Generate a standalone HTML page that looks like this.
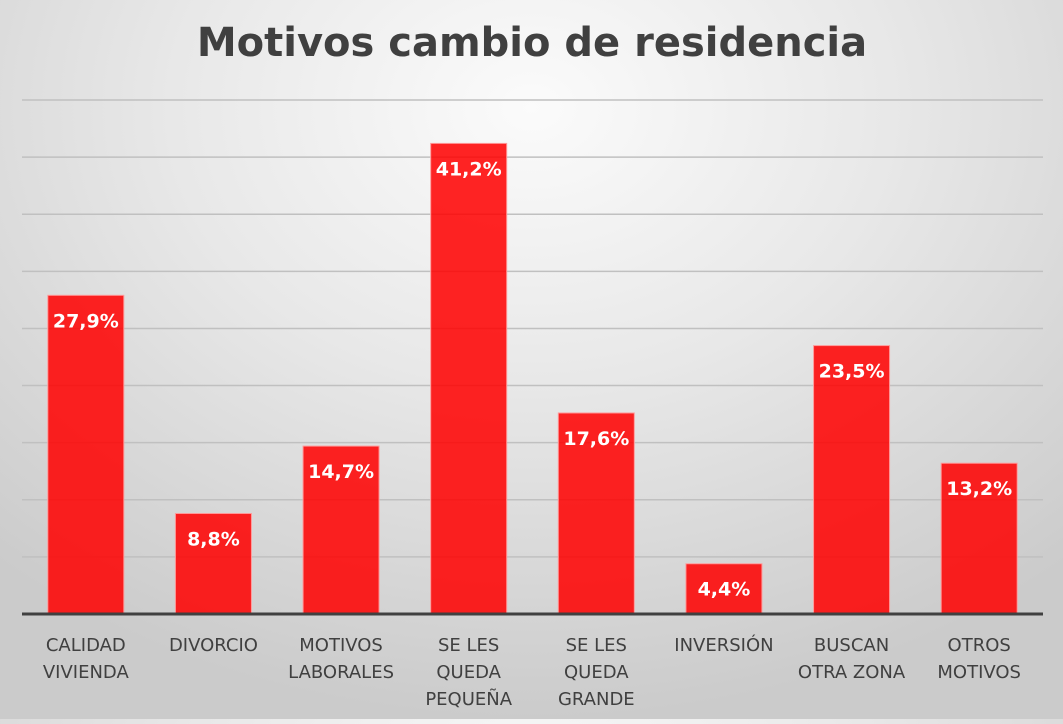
<!DOCTYPE html>
<html><head><meta charset="utf-8"><style>
html,body{margin:0;padding:0}
body{width:1063px;height:719px;overflow:hidden;font-family:"Liberation Sans","DejaVu Sans",sans-serif;
background:radial-gradient(ellipse 75% 85% at 50% 15%,#fbfbfb 0%,#e8e8e8 45%,#cbcbcb 100%);}
</style></head><body>
<svg id="chart" width="1063" height="719" xmlns="http://www.w3.org/2000/svg">
<text x="532" y="56" text-anchor="middle" font-size="40" font-weight="bold" fill="#404040" font-family="DejaVu Sans, Liberation Sans, sans-serif">Motivos cambio de residencia</text>
<g id="grid"></g><g id="bars"></g><g id="labels"></g><g id="cats"></g>
</svg>
<script>
const categories=[["CALIDAD","VIVIENDA"],["DIVORCIO"],["MOTIVOS","LABORALES"],["SE LES","QUEDA","PEQUEÑA"],["SE LES","QUEDA","GRANDE"],["INVERSIÓN"],["BUSCAN","OTRA ZONA"],["OTROS","MOTIVOS"]];
const values=[27.9,8.8,14.7,41.2,17.6,4.4,23.5,13.2];
const valueLabels=["27,9%","8,8%","14,7%","41,2%","17,6%","4,4%","23,5%","13,2%"];
const gridTicks=[5,10,15,20,25,30,35,40,45];
const NS="http://www.w3.org/2000/svg";
const x0=22,x1=1043,yBase=614,yMax=45,yTop=100;
const y=v=>yBase-(v/yMax)*(yBase-yTop);
const band=(x1-x0)/categories.length;
const bx=i=>x0+band*i+band/2;
function mk(t,a,p){const e=document.createElementNS(NS,t);for(const k in a)e.setAttribute(k,a[k]);p.appendChild(e);return e;}
const g=document.getElementById('grid');
gridTicks.forEach(t=>{const l=mk('line',{x1:x0,x2:x1,y1:y(t),y2:y(t),stroke:'#c0c0c0','stroke-width':1.5},g);

});
const bg=document.getElementById('bars'),lg=document.getElementById('labels'),cg=document.getElementById('cats');
const bw=76;
values.forEach((v,i)=>{
const r=mk('rect',{x:bx(i)-bw/2,y:y(v),width:bw,height:yBase-y(v),fill:'#ff0000','fill-opacity':0.86,stroke:'#ff9a9a','stroke-width':1},bg);


const t=mk('text',{x:bx(i),y:y(v)+32,'text-anchor':'middle','font-size':19,'font-weight':'bold',fill:'#fff','font-family':'DejaVu Sans, sans-serif'},lg);
t.textContent=valueLabels[i];


categories[i].forEach((ln,j)=>{const c=mk('text',{x:bx(i),y:651+j*27,'text-anchor':'middle','font-size':18,fill:'#404040','font-family':'DejaVu Sans, sans-serif'},cg);
c.textContent=ln;

});
});
const ax=mk('line',{x1:x0,x2:x1,y1:yBase,y2:yBase,stroke:'#404040','stroke-width':3},document.getElementById('chart'));


</script>
</body></html>
